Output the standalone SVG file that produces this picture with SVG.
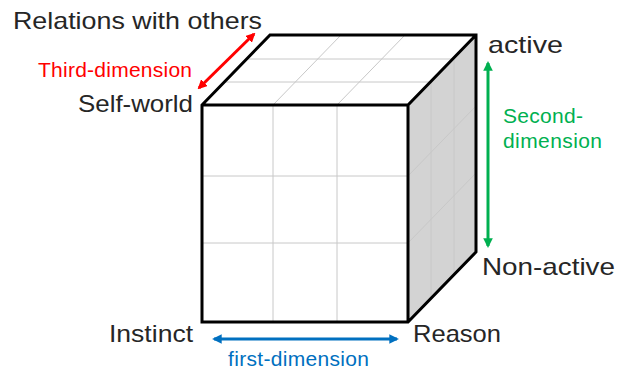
<svg xmlns="http://www.w3.org/2000/svg" width="617" height="371" viewBox="0 0 617 371">
<style>
.lbl{font-family:"Liberation Sans",Arial,sans-serif;font-size:24px;fill:#262626}
.dim{font-family:"Liberation Sans",Arial,sans-serif;font-size:21px}
.grid{stroke:#c8c8c8;stroke-width:1;fill:none}
.edge{stroke:#000;stroke-width:3;stroke-linejoin:miter;fill:none}
</style>
<defs>
<marker id="aR" viewBox="0 0 10 10" refX="8" refY="5" markerWidth="3.2" markerHeight="3.2" orient="auto-start-reverse"><path d="M0,0 L10,5 L0,10 z" fill="#ff0000"/></marker>
<marker id="aG" viewBox="0 0 10 10" refX="8" refY="5" markerWidth="3.2" markerHeight="3.2" orient="auto-start-reverse"><path d="M0,0 L10,5 L0,10 z" fill="#00b050"/></marker>
<marker id="aB" viewBox="0 0 10 10" refX="8" refY="5" markerWidth="3.2" markerHeight="3.2" orient="auto-start-reverse"><path d="M0,0 L10,5 L0,10 z" fill="#0070c0"/></marker>
</defs>
<g id="cube">
<polygon points="202,105 270,35 476,35 408,105" fill="#fff"/>
<polygon points="408,105 476,35 476,252 408,322" fill="#d3d3d3"/>
<rect x="202" y="105" width="206" height="217" fill="#fff"/>
<g class="grid">
<line x1="273" y1="105" x2="273" y2="322"/>
<line x1="337" y1="105" x2="337" y2="322"/>
<line x1="202" y1="176" x2="408" y2="176"/>
<line x1="202" y1="243" x2="408" y2="243"/>
<line x1="273" y1="105" x2="341" y2="35"/>
<line x1="337" y1="105" x2="405" y2="35"/>
<line x1="246.5" y1="59" x2="452.5" y2="59"/>
<line x1="224.5" y1="82" x2="430.5" y2="82"/>
<line x1="431" y1="81" x2="431" y2="298"/>
<line x1="454" y1="58" x2="454" y2="275"/>
<line x1="408" y1="176" x2="476" y2="106"/>
<line x1="408" y1="243" x2="476" y2="173"/>
</g>
<path class="edge" d="M202,105 L270,35 L476,35 L476,252 L408,322 L202,322 Z M202,105 L408,105 L476,35 M408,105 L408,322"/>
</g>
<g id="connectors">
<line x1="199" y1="88" x2="254" y2="34" stroke="#ff0000" stroke-width="3" marker-start="url(#aR)" marker-end="url(#aR)"/>
<line x1="488" y1="63" x2="488" y2="246" stroke="#00b050" stroke-width="3" marker-start="url(#aG)" marker-end="url(#aG)"/>
<line x1="214" y1="339" x2="397" y2="339" stroke="#0070c0" stroke-width="3" marker-start="url(#aB)" marker-end="url(#aB)"/>
</g>
<g id="labels">
<text class="lbl" x="13" y="29" textLength="249" lengthAdjust="spacingAndGlyphs">Relations with others</text>
<text class="lbl" x="78" y="112" textLength="115" lengthAdjust="spacingAndGlyphs">Self-world</text>
<text class="lbl" x="488" y="53" textLength="75" lengthAdjust="spacingAndGlyphs">active</text>
<text class="lbl" x="482" y="275" textLength="133" lengthAdjust="spacingAndGlyphs">Non-active</text>
<text class="lbl" x="413" y="342" textLength="88" lengthAdjust="spacingAndGlyphs">Reason</text>
<text class="lbl" x="109" y="342" textLength="84" lengthAdjust="spacingAndGlyphs">Instinct</text>
<text class="dim" x="38" y="77" fill="#ff0000" textLength="154">Third-dimension</text>
<text class="dim" x="503" y="123" fill="#00b050" textLength="80">Second-</text>
<text class="dim" x="503" y="148" fill="#00b050" textLength="99">dimension</text>
<text class="dim" x="228" y="366" fill="#0070c0" textLength="141">first-dimension</text>
</g>
</svg>
